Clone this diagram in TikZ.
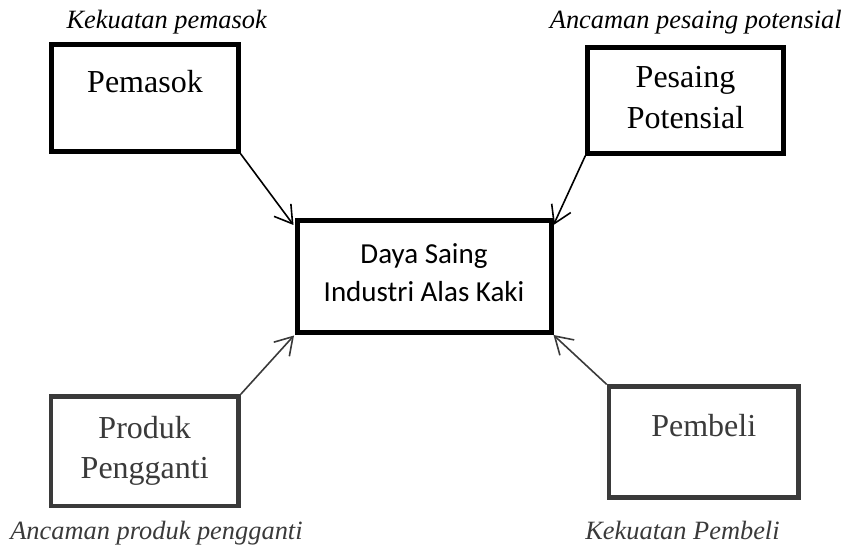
\documentclass[tikz,border=0pt]{standalone}
\usepackage{fontspec}
\setmainfont{Liberation Serif}
\newfontfamily\calfont{Carlito}
\usetikzlibrary{arrows.meta}
\definecolor{lowgray}{HTML}{3A3A3A}
\tikzset{
  boxA/.style={draw, rectangle, inner sep=0pt, line width=4.8pt},
  boxtext/.style={font=\fontsize{32}{40}\selectfont, anchor=base, inner sep=0pt},
  forcelabel/.style={font=\fontsize{26.4}{30}\selectfont\itshape, anchor=base, inner sep=0pt},
  centertext/.style={font=\calfont\fontsize{29}{37}\selectfont, anchor=base, inner sep=0pt},
  conn/.style={line width=1.6pt, -{Straight Barb[length=17pt,width=21pt]}},
}
\begin{document}
\begin{tikzpicture}[x=1pt,y=-1pt]
\useasboundingbox (0,0) rectangle (846,548);
% boxes
\node[boxA, minimum width=186.6pt, minimum height=107pt] (pemasok) at (145,98) {};
\node[boxA, minimum width=195.4pt, minimum height=105.4pt] (pesaing) at (685.5,100.5) {};
\node[boxA, line width=5pt, minimum width=254pt, minimum height=111.5pt] (center) at (424,276.25) {};
\node[boxA, draw=lowgray, line width=4.6pt, minimum width=187.5pt, minimum height=109.5pt] (produk) at (144.75,451.25) {};
\node[boxA, draw=lowgray, line width=4.6pt, minimum width=189.5pt, minimum height=110.8pt] (pembeli) at (703.75,442.1) {};
% box texts
\node[boxtext] (pemasokT) at (145,92.7) {Pemasok};
\node[boxtext] (pesaingT1) at (685.5,87.5) {Pesaing};
\node[boxtext] (pesaingT2) at (685.5,128.3) {Potensial};
\node[centertext] (centerT1) at (424,263.5) {Daya Saing};
\node[centertext] (centerT2) at (424,301.7) {Industri Alas Kaki};
\node[boxtext, text=lowgray] (produkT1) at (144.7,438.3) {Produk};
\node[boxtext, text=lowgray] (produkT2) at (144.7,478.3) {Pengganti};
\node[boxtext, text=lowgray] (pembeliT) at (703.7,436) {Pembeli};
% force labels
\node[forcelabel] (lab1) at (166.7,29) {Kekuatan pemasok};
\node[forcelabel] (lab2) at (695.8,29) {Ancaman pesaing potensial};
\node[forcelabel, text=lowgray] (lab3) at (156.5,539.5) {Ancaman produk pengganti};
\node[forcelabel, text=lowgray] (lab4) at (682.5,539) {Kekuatan Pembeli};
% connectors
\draw[conn] (pemasok.south east) -- ([xshift=-1pt,yshift=-7pt]center.north west);
\draw[conn] (pesaing.south west) -- ([yshift=-7pt]center.north east);
\draw[conn, draw=lowgray] (produk.north east) -- ([xshift=-0.5pt,yshift=-1pt]center.south west);
\draw[conn, draw=lowgray] (pembeli.north west) -- ([yshift=-0.5pt]center.south east);
\end{tikzpicture}
\end{document}
